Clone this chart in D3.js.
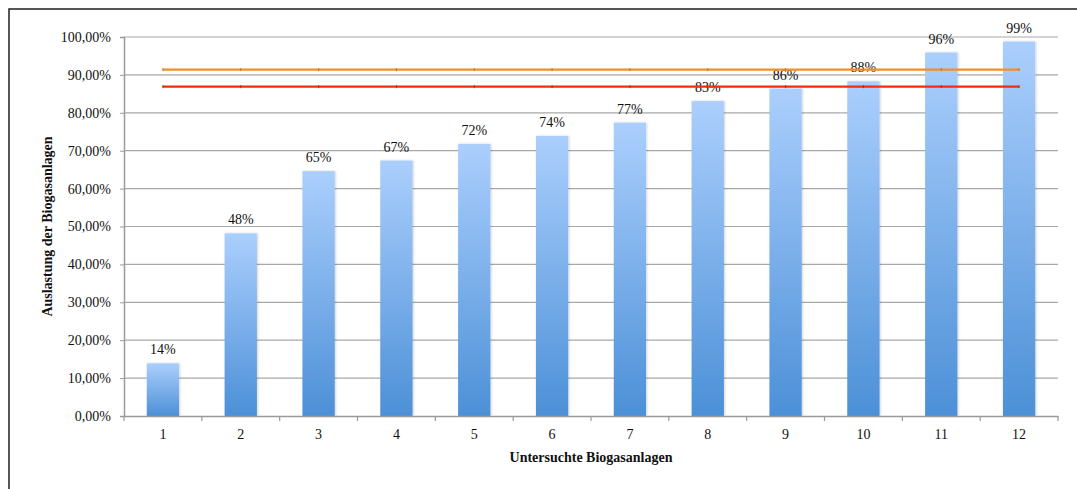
<!DOCTYPE html>
<html>
<head>
<meta charset="utf-8">
<script src="https://cdn.jsdelivr.net/npm/d3@7"></script>
<style>
  html, body { margin: 0; padding: 0; background: #fff; }
  svg { display: block; }
  text { font-family: "Liberation Serif", "Times New Roman", serif; fill: #111; }
</style>
</head>
<body>
<div id="chart"></div>
<script>
// Auslastung der untersuchten Biogasanlagen
const categories = ["1", "2", "3", "4", "5", "6", "7", "8", "9", "10", "11", "12"];
const utilisation = [0.139, 0.482, 0.646, 0.674, 0.718, 0.739, 0.774, 0.831, 0.864, 0.883, 0.959, 0.988];
const referenceLines = [
  { name: "Referenz A", value: 0.914, color: "#f68e22" },
  { name: "Referenz B", value: 0.869, color: "#f02d0c" }
];
const yTicks = [0, 0.1, 0.2, 0.3, 0.4, 0.5, 0.6, 0.7, 0.8, 0.9, 1.0];
const xTitle = "Untersuchte Biogasanlagen";
const yTitle = "Auslastung der Biogasanlagen";

const W = 1077, H = 489;
const plot = { left: 124, right: 1058, top: 37, bottom: 416 };

const svg = d3.select("#chart").append("svg").attr("width", W).attr("height", H);

// frame around the chart
svg.append("path")
  .attr("d", `M9,${H} L9,9 L${W},9`)
  .attr("fill", "none").attr("stroke", "#1e1e1e").attr("stroke-width", 1.5);

const defs = svg.append("defs");
const grad = defs.append("linearGradient").attr("id", "barGrad")
  .attr("x1", 0).attr("y1", 0).attr("x2", 0).attr("y2", 1);
grad.append("stop").attr("offset", "0%").attr("stop-color", "#abcffd");
grad.append("stop").attr("offset", "100%").attr("stop-color", "#4c90d7");
const shadow = defs.append("filter").attr("id", "barShadow")
  .attr("x", "-20%").attr("y", "-5%").attr("width", "140%").attr("height", "110%");
shadow.append("feDropShadow").attr("dx", 1).attr("dy", 0).attr("stdDeviation", 1)
  .attr("flood-color", "#000").attr("flood-opacity", 0.18);

const x = d3.scaleBand().domain(categories).range([plot.left, plot.right]).paddingInner(0).paddingOuter(0);
const y = d3.scaleLinear().domain([0, 1]).range([plot.bottom, plot.top]);
const fmtTick = v => d3.format(".2f")(v * 100).replace(".", ",") + "%";
const fmtLabel = d3.format(".0%");

// horizontal grid
svg.append("g").selectAll("line").data(yTicks.slice(1)).join("line")
  .attr("x1", plot.left).attr("x2", plot.right)
  .attr("y1", d => y(d)).attr("y2", d => y(d))
  .attr("stroke", "#a8a8a8").attr("stroke-width", 1.2);

// y axis
const yAxis = svg.append("g").attr("transform", `translate(${plot.left},0)`)
  .call(d3.axisLeft(y).tickValues(yTicks).tickFormat(fmtTick).tickSize(4).tickPadding(9));
yAxis.select(".domain").attr("stroke", "#9a9a9a").attr("stroke-width", 1.5);
yAxis.selectAll(".tick line").attr("stroke", "#9a9a9a");
yAxis.selectAll(".tick text").attr("font-size", 14).attr("font-family", "Liberation Serif").attr("fill", "#111");

// bars
const barW = x.bandwidth() * 0.415;
svg.append("g").selectAll("rect").data(utilisation).join("rect")
  .attr("x", (d, i) => x(categories[i]) + (x.bandwidth() - barW) / 2)
  .attr("width", barW)
  .attr("y", d => y(d))
  .attr("height", d => y(0) - y(d))
  .attr("fill", "url(#barGrad)")
  .attr("filter", "url(#barShadow)");

// value labels
svg.append("g").selectAll("text").data(utilisation).join("text")
  .attr("x", (d, i) => x(categories[i]) + x.bandwidth() / 2)
  .attr("y", d => y(d) - 9)
  .attr("text-anchor", "middle")
  .attr("font-size", 14)
  .text(d => fmtLabel(d));

// x axis
const xAxis = svg.append("g").attr("transform", `translate(0,${plot.bottom})`)
  .call(d3.axisBottom(x).tickSize(0).tickPadding(13));
xAxis.select(".domain").attr("stroke", "#9a9a9a").attr("stroke-width", 1.5);
xAxis.selectAll(".tick text").attr("font-size", 14).attr("font-family", "Liberation Serif").attr("fill", "#111");
// category separators below the axis
const bounds = categories.map(c => x(c)).concat([plot.right]);
xAxis.append("g").selectAll("line").data(bounds).join("line")
  .attr("x1", d => d).attr("x2", d => d).attr("y1", 0).attr("y2", 5)
  .attr("stroke", "#9a9a9a").attr("stroke-width", 1.2);

// reference lines across category centres
const centres = categories.map(c => x(c) + x.bandwidth() / 2);
referenceLines.forEach(r => {
  const g = svg.append("g");
  g.append("line")
    .attr("x1", centres[0]).attr("x2", centres[centres.length - 1])
    .attr("y1", y(r.value)).attr("y2", y(r.value))
    .attr("stroke", r.color).attr("stroke-width", 2.2);
  g.selectAll("line.mk").data(centres).join("line").attr("class", "mk")
    .attr("x1", d => d).attr("x2", d => d)
    .attr("y1", y(r.value) - 1.5).attr("y2", y(r.value) + 1.5)
    .attr("stroke", d3.color(r.color).darker(0.6)).attr("stroke-width", 1);
});

// axis titles
svg.append("text")
  .attr("x", (plot.left + plot.right) / 2).attr("y", 462)
  .attr("text-anchor", "middle").attr("font-size", 14).attr("font-weight", "bold")
  .text(xTitle);
svg.append("text")
  .attr("transform", `translate(52,${(plot.top + plot.bottom) / 2}) rotate(-90)`)
  .attr("text-anchor", "middle").attr("font-size", 14).attr("font-weight", "bold")
  .text(yTitle);
</script>
</body>
</html>
